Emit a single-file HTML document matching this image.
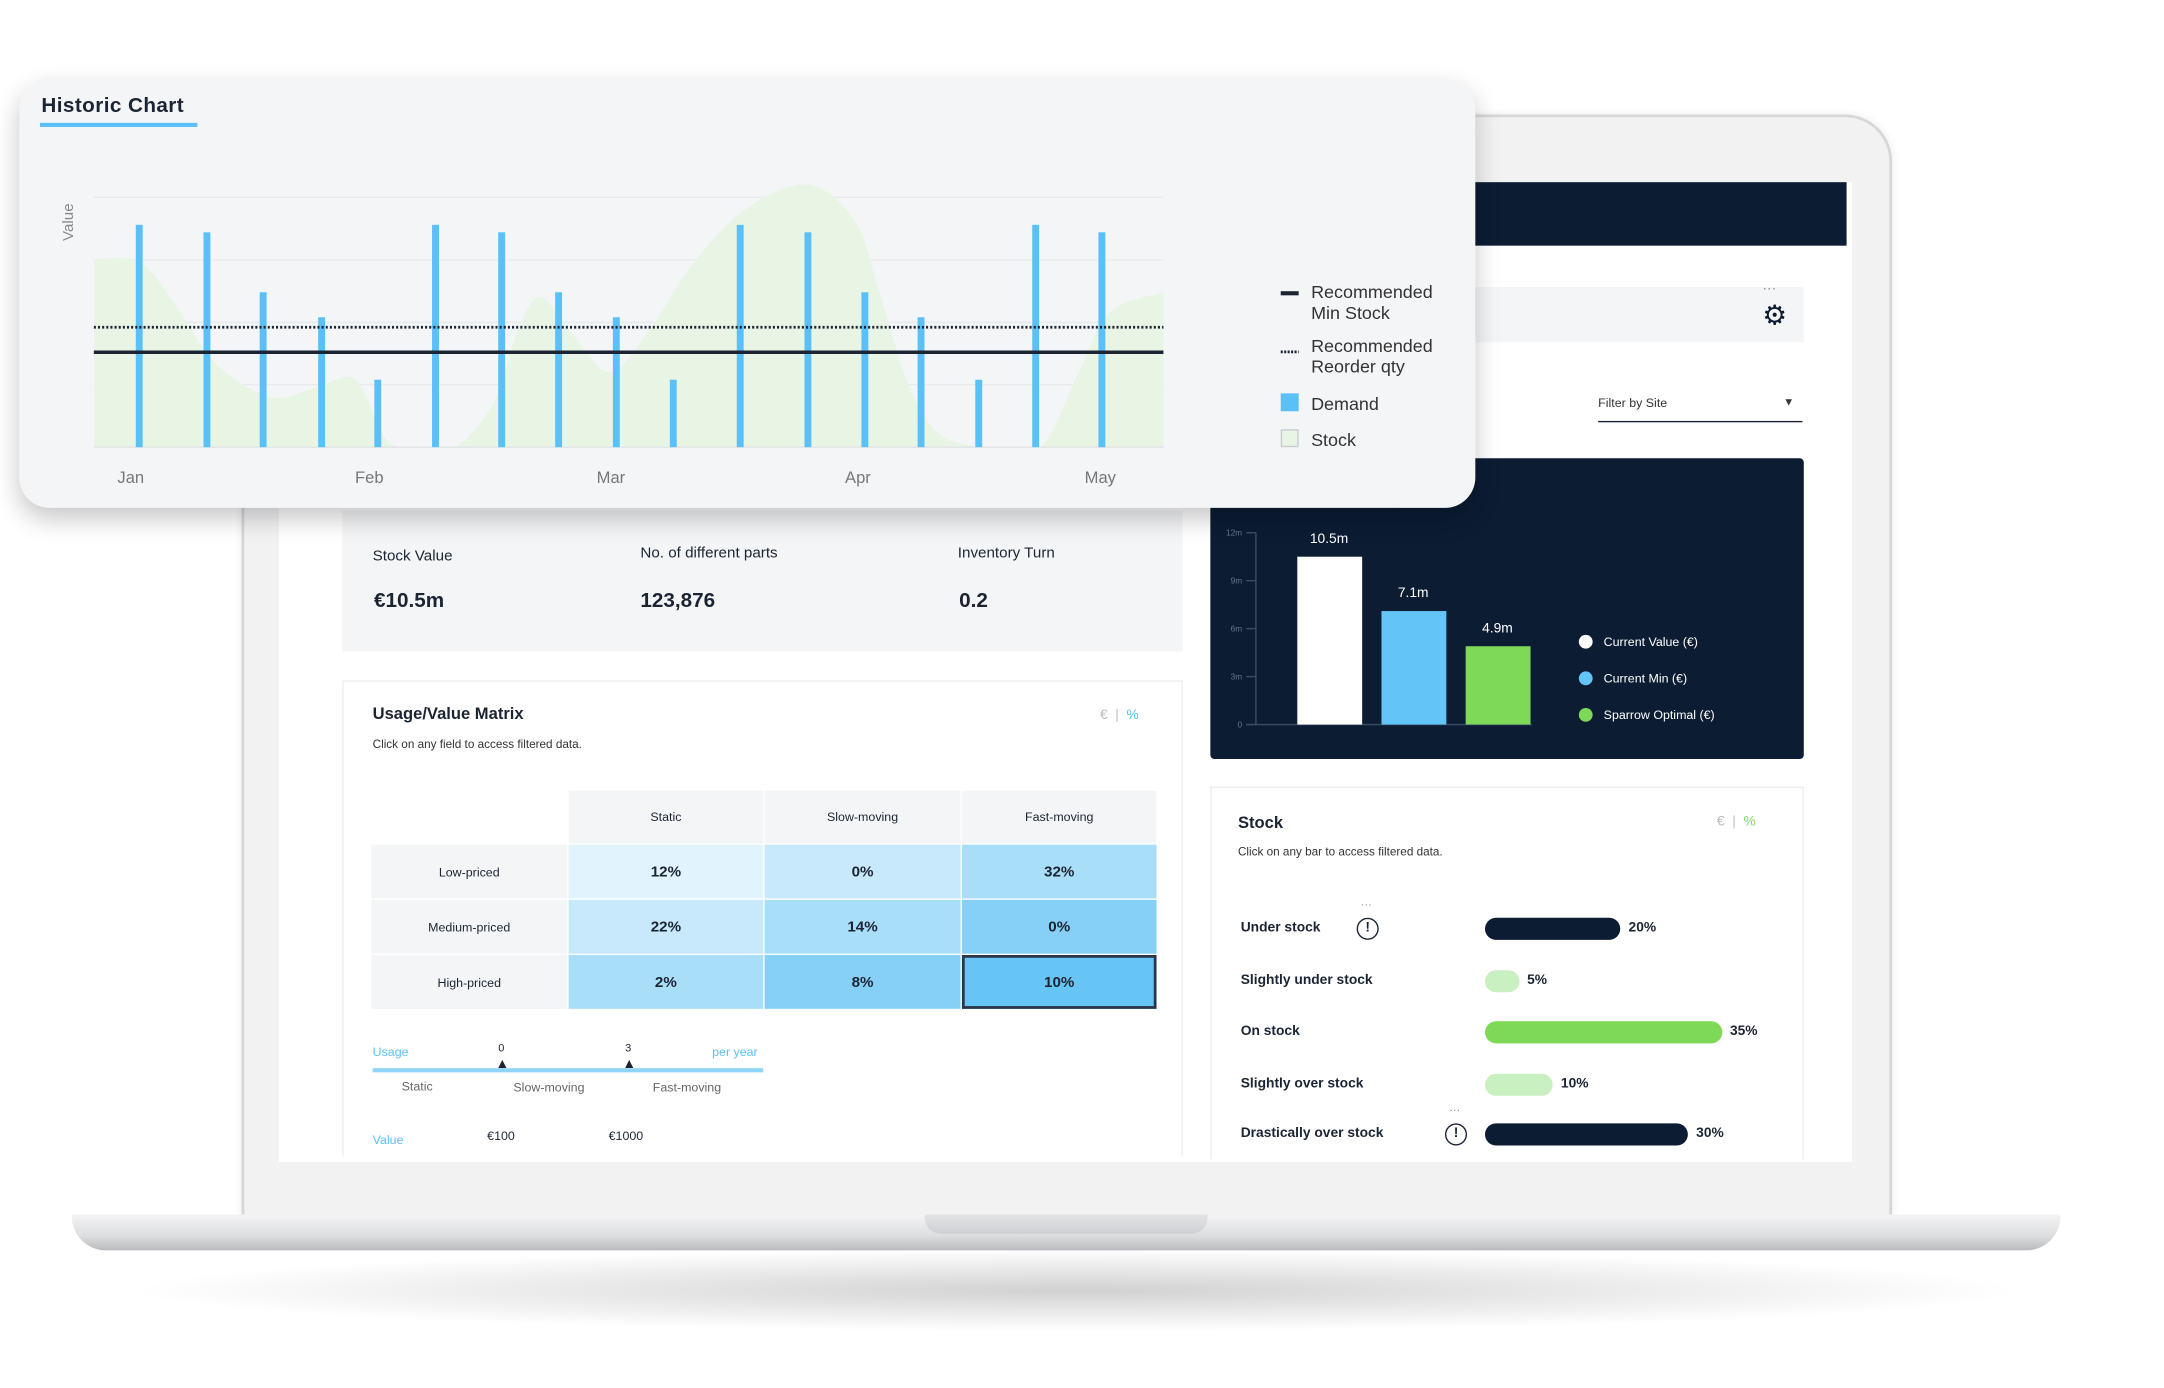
<!DOCTYPE html>
<html><head><meta charset="utf-8"><style>
*{box-sizing:border-box;margin:0;padding:0}
html,body{width:2164px;height:1388px;overflow:hidden;background:#fff;font-family:"Liberation Sans",sans-serif;color:#1b2433}
#wrap{position:absolute;left:0;top:0;width:1568px;height:1006px;transform:scale(1.38010);transform-origin:0 0}
.abs{position:absolute}
.t{position:absolute;white-space:nowrap}
</style></head><body><div id="wrap">

<!-- laptop -->
<div class="abs" style="left:90px;top:905px;width:1380px;height:60px;border-radius:50%;background:radial-gradient(ellipse at center,rgba(0,0,0,0.18),rgba(0,0,0,0) 70%)"></div>
<div class="abs" style="left:175px;top:83px;width:1196px;height:800px;border-radius:34px 34px 4px 4px;background:#f2f2f3;border:2px solid #d6d7d9;box-shadow:0 0 6px rgba(0,0,0,0.08)"></div>
<div class="abs" style="left:202px;top:132px;width:1140px;height:710px;background:#fff"></div>
<div class="abs" style="left:1060px;top:132px;width:278px;height:46px;background:#0b1c33"></div>
<div class="abs" style="left:52px;top:880px;width:1441px;height:26px;border-radius:2px 2px 40px 40px;background:linear-gradient(#f4f4f5,#dcdddf 60%,#b9babd)"></div>
<div class="abs" style="left:670px;top:880px;width:205px;height:14px;border-radius:0 0 12px 12px;background:linear-gradient(#e2e3e5,#cfd0d3)"></div>

<!-- toolbar -->
<div class="abs" style="left:1060px;top:208px;width:247px;height:40px;background:#f4f5f7"></div>
<div class="t" style="left:1277px;top:204px;font-size:10px;color:#888">···</div>
<div class="t" style="left:1277px;top:216px;font-size:20px;color:#0b1c33">⚙</div>
<div class="t" style="left:1158px;top:287px;width:148px;height:19px;border-bottom:1px solid #1b2433;font-size:9px;color:#333">Filter by Site<span style="position:absolute;right:6px;top:0;font-size:8px">▼</span></div>

<!-- stats -->
<div class="abs" style="left:248px;top:370px;width:609px;height:102px;background:#f4f5f7"></div>
<div class="t" style="left:270px;top:397px;font-size:11px">Stock Value</div>
<div class="t" style="left:271px;top:427px;font-size:15px;font-weight:bold">€10.5m</div>
<div class="t" style="left:464px;top:395px;font-size:11px">No. of different parts</div>
<div class="t" style="left:464px;top:427px;font-size:15px;font-weight:bold">123,876</div>
<div class="t" style="left:694px;top:395px;font-size:11px">Inventory Turn</div>
<div class="t" style="left:695px;top:427px;font-size:15px;font-weight:bold">0.2</div>

<!-- matrix -->
<div class="abs" style="left:248px;top:493px;width:609px;height:345px;background:#fff;border:1px solid #eceef1;border-bottom:none"></div>
<div class="t" style="left:270px;top:510px;font-size:12px;font-weight:bold">Usage/Value Matrix</div>
<div class="t" style="left:270px;top:534px;font-size:8.5px;color:#333">Click on any field to access filtered data.</div>
<div class="t" style="left:797px;top:513px;font-size:10px;color:#bbb">€ &nbsp;| &nbsp;<span style="color:#5bc0f8">%</span></div>
<div id="matrix"></div>
<div class="t" style="left:270px;top:757px;font-size:9px;color:#5bc0f8">Usage</div>
<div class="t" style="left:361px;top:755px;font-size:8px">0</div>
<div class="t" style="left:453px;top:755px;font-size:8px">3</div>
<div class="t" style="left:516px;top:757px;font-size:9px;color:#5bc0f8">per year</div>
<div class="abs" style="left:270px;top:774px;width:283px;height:3px;background:#8fd3f8"></div>
<div class="t" style="left:359px;top:766px;font-size:10px">▲</div>
<div class="t" style="left:451px;top:766px;font-size:10px">▲</div>
<div class="t" style="left:291px;top:782px;font-size:9px;color:#666">Static</div>
<div class="t" style="left:372px;top:783px;font-size:9px;color:#666">Slow-moving</div>
<div class="t" style="left:473px;top:783px;font-size:9px;color:#666">Fast-moving</div>
<div class="t" style="left:270px;top:821px;font-size:9px;color:#5bc0f8">Value</div>
<div class="t" style="left:353px;top:818px;font-size:9px">€100</div>
<div class="t" style="left:441px;top:818px;font-size:9px">€1000</div>

<!-- dark bar chart -->
<div class="abs" style="left:877px;top:332px;width:430px;height:218px;background:#0b1c33;border-radius:3px"></div>
<svg id="vchart" class="abs" style="left:0;top:0" width="1568" height="1006"></svg>

<!-- stock panel -->
<div class="abs" style="left:877px;top:570px;width:430px;height:270px;background:#fff;border:1px solid #eceef1;border-bottom:none"></div>
<div class="t" style="left:897px;top:589px;font-size:12px;font-weight:bold">Stock</div>
<div class="t" style="left:897px;top:612px;font-size:8.5px;color:#333">Click on any bar to access filtered data.</div>
<div class="t" style="left:1244px;top:590px;font-size:10px;color:#bbb">€ &nbsp;| &nbsp;<span style="color:#7ed957">%</span></div>
<div id="stockbars"></div>

<!-- historic chart card -->
<div class="abs" style="left:14px;top:57px;width:1055px;height:311px;background:#f4f5f7;border-radius:22px;box-shadow:0 8px 18px rgba(0,0,0,0.22)">
  <div class="t" style="left:16px;top:11px;font-size:15px;font-weight:bold;letter-spacing:0.3px">Historic Chart</div>
  <div class="abs" style="left:15px;top:32px;width:114px;height:3px;background:#5bc0f8"></div>
  <svg id="hchart" class="abs" style="left:0;top:0" width="1055" height="311"></svg>
</div>

<script>
// ---------- Historic chart data ----------
const barDays = [5.9,14.7,22,29.6,36.9,44.4,53,60.4,67.9,75.3,84,92.8,100.2,107.5,115,122.4,131];
const demandValues = [89,86,62,52,27,89,86,62,52,27,89,86,62,52,27,89,86];
const stockDays = [0,6,11,16,23,29,34,38,42,47,52,55,58,62,67,72,78,85,93,99,102,106,110,116,123,128,132,139];
const stockValues = [75,74,55,33,20,24,27,3,0,0,18,46,60,46,30,46,74,96,105,90,63,24,5,0,0,30,54,62];
const monthLabels = ['Jan','Feb','Mar','Apr','May'];
const monthDays = [4.8,35.8,67.2,99.3,130.8];
const minStock = 38;
const reorderQty = 48;

// ---------- Value chart data ----------
const valueCategories = ['Current Value (€)','Current Min (€)','Sparrow Optimal (€)'];
const valueAmounts = [10.5,7.1,4.9];
const valueLabels = ['10.5m','7.1m','4.9m'];
const valueTicks = [0,3,6,9,12];
const valueTickLabels = ['0','3m','6m','9m','12m'];

// ---------- Stock bars ----------
const stockCats = ['Under stock','Slightly under stock','On stock','Slightly over stock','Drastically over stock'];
const stockPct = [20,5,35,10,30];

// ---------- Matrix ----------
const matrixCols = ['Static','Slow-moving','Fast-moving'];
const matrixRows = ['Low-priced','Medium-priced','High-priced'];
const matrixValues = [[12,0,32],[22,14,0],[2,8,10]];

const NS='http://www.w3.org/2000/svg';
function mk(parent,tag,attrs){const e=document.createElementNS(NS,tag);for(const k in attrs)e.setAttribute(k,attrs[k]);parent.appendChild(e);return e;}

// Historic chart
(function(){
const svg=document.getElementById('hchart');
const X0=54,X1=829,Y0=267,Y1=86;
const xs=d=>X0+(d-0)/(139-0)*(X1-X0);
const ys=v=>Y0-v/100*(Y0-Y1);
const defs=mk(svg,'defs',{});
const cp=mk(defs,'clipPath',{id:'cp'});mk(cp,'rect',{x:X0,y:50,width:X1-X0,height:Y0-50});
// grid
for(let i=0;i<=4;i++){const g=mk(svg,'line',{x1:X0,x2:X1,y1:ys(i*25),y2:ys(i*25),stroke:'#e8eaee','stroke-width':1});
}
// area via catmull-rom
const pts=stockDays.map((d,i)=>[xs(d),ys(stockValues[i])]);
let p='M'+X0+','+Y0+' L'+pts[0][0]+','+pts[0][1];
for(let i=0;i<pts.length-1;i++){const a=pts[i-1]||pts[i],b=pts[i],c=pts[i+1],d=pts[i+2]||c;
p+=' C'+(b[0]+(c[0]-a[0])/6)+','+(b[1]+(c[1]-a[1])/6)+' '+(c[0]-(d[0]-b[0])/6)+','+(c[1]-(d[1]-b[1])/6)+' '+c[0]+','+c[1];}
p+=' L'+X1+','+Y0+' Z';
const area=mk(svg,'path',{d:p,fill:'#e8f5e4','clip-path':'url(#cp)'});

mk(svg,'line',{x1:X0,x2:X1,y1:Y0,y2:Y0,stroke:'#e2e4e8'});
// bars
barDays.forEach((d,i)=>{const r=mk(svg,'rect',{x:xs(d)-2.5,y:ys(demandValues[i]),width:5,height:Y0-ys(demandValues[i]),fill:'#5bc0f8'});
});
const l1=mk(svg,'line',{x1:X0,x2:X1,y1:ys(reorderQty),y2:ys(reorderQty),stroke:'#1b2433','stroke-width':2,'stroke-dasharray':'1.5 1.5'});

const l2=mk(svg,'line',{x1:X0,x2:X1,y1:ys(minStock),y2:ys(minStock),stroke:'#1b2433','stroke-width':2.5});

monthLabels.forEach((m,i)=>{const t=mk(svg,'text',{x:xs(monthDays[i]),y:293,'text-anchor':'middle','font-size':12,fill:'#777','font-family':'Liberation Sans'});t.textContent=m;
});
const yt=mk(svg,'text',{x:0,y:0,transform:'translate(39,104) rotate(-90)','text-anchor':'middle','font-size':11,fill:'#888','font-family':'Liberation Sans'});yt.textContent='Value';

// legend
const lg=[['Recommended','Min Stock',155],['Recommended','Reorder qty',194]];
const lgA=mk(svg,'g',{});
mk(lgA,'rect',{x:914,y:154,width:13,height:3,fill:'#1b2433'});
mk(lgA,'line',{x1:914,x2:927,y1:198,y2:198,stroke:'#1b2433','stroke-width':2,'stroke-dasharray':'1.5 1'});
lg.forEach(a=>{[a[0],a[1]].forEach((s,j)=>{const t=mk(lgA,'text',{x:936,y:a[2]+4+j*15,'font-size':13,fill:'#333','font-family':'Liberation Sans'});t.textContent=s;});});
mk(lgA,'rect',{x:914,y:228,width:13,height:13,fill:'#5bc0f8'});
let t=mk(lgA,'text',{x:936,y:240,'font-size':13,fill:'#333','font-family':'Liberation Sans'});t.textContent='Demand';
mk(lgA,'rect',{x:914.5,y:254.5,width:12,height:12,fill:'#e8f5e4',stroke:'#c8ccd2'});
t=mk(lgA,'text',{x:936,y:266,'font-size':13,fill:'#333','font-family':'Liberation Sans'});t.textContent='Stock';
})();

// Value chart
(function(){
const svg=document.getElementById('vchart');
const yb=525,yt=386,ys=v=>yb-v/12*(yb-yt);
mk(svg,'line',{x1:910,x2:910,y1:yt,y2:yb,stroke:'#3c4d66'});
mk(svg,'line',{x1:903,x2:1110,y1:yb,y2:yb,stroke:'#3c4d66'});
valueTicks.forEach((v,i)=>{mk(svg,'line',{x1:903,x2:910,y1:ys(v),y2:ys(v),stroke:'#3c4d66'});
const t=mk(svg,'text',{x:900,y:ys(v)+2,'text-anchor':'end','font-size':6,fill:'#6b7a90','font-family':'Liberation Sans'});t.textContent=valueTickLabels[i];
});
const cols=['#ffffff','#63c5f7','#7ed957'];
valueAmounts.forEach((v,i)=>{const x=940+i*61;
const r=mk(svg,'rect',{x:x,y:ys(v),width:47,height:yb-ys(v),fill:cols[i]});

const t=mk(svg,'text',{x:x+23,y:ys(v)-10,'text-anchor':'middle','font-size':10,fill:'#fff','font-family':'Liberation Sans'});t.textContent=valueLabels[i];

mk(svg,'circle',{cx:1149,cy:465+i*26.5,r:5,fill:cols[i]});
const l=mk(svg,'text',{x:1162,y:468+i*26.5,'font-size':9,fill:'#fff','font-family':'Liberation Sans'});l.textContent=valueCategories[i].replace(' (€)','  (€)');
});
})();

// Stock bars
(function(){
const c=document.getElementById('stockbars');
const ys=[673,711,748,786,822];
const cols=['#0b1c33','#c9f0c0','#7ed957','#c9f0c0','#0b1c33'];
stockCats.forEach((s,i)=>{
const l=document.createElement('div');l.className='t';l.style.cssText=`left:899px;top:${ys[i]-6}px;font-size:10px;font-weight:bold;color:#1b2433`;l.textContent=s;


c.appendChild(l);
const w=stockPct[i]*4.9;
const b=document.createElement('div');b.className='abs';b.style.cssText=`left:1076px;top:${ys[i]-8}px;width:${w}px;height:16px;border-radius:8px;background:${cols[i]}`;


c.appendChild(b);
const p=document.createElement('div');p.className='t';p.style.cssText=`left:${1076+w+6}px;top:${ys[i]-6}px;font-size:10px;font-weight:bold`;p.textContent=stockPct[i]+'%';


c.appendChild(p);
});
[[991,673],[1055,822]].forEach(a=>{const w=document.createElement('div');w.className='abs';
w.style.cssText=`left:${a[0]-8}px;top:${a[1]-8}px;width:16px;height:16px;border:1.5px solid #1b2433;border-radius:50%;font-size:10px;font-weight:bold;text-align:center;line-height:13px`;w.textContent='!';


c.appendChild(w);
const d=document.createElement('div');d.className='t';d.style.cssText=`left:${a[0]-5}px;top:${a[1]-22}px;font-size:8px;color:#888`;d.textContent='···';


c.appendChild(d);});
})();

// Matrix
(function(){
const c=document.getElementById('matrix');
const xs=[269,412,554,697],ws=[142,141,142,141];
const yr=[573,612,652,692],hs=[38,39,39,39];
const shades=['#e1f3fc','#c7e9fb','#a9def9','#86d0f7','#66c5f5'];
function cell(x,y,w,h,bg,txt,bold,name,inter){const d=document.createElement('div');d.className='abs';
d.style.cssText=`left:${x}px;top:${y}px;width:${w}px;height:${h}px;background:${bg};display:flex;align-items:center;justify-content:center;font-size:${bold?11:9}px;font-weight:${bold?'bold':'normal'};color:#1b2433`;
d.textContent=txt;c.appendChild(d);return d;}
matrixCols.forEach((s,j)=>{const d=cell(xs[j+1],yr[0],ws[j+1],hs[0],'#f4f5f7',s,false);

});
matrixRows.forEach((s,i)=>{const d=cell(xs[0],yr[i+1],ws[0],hs[i+1],'#f4f5f7',s,false);


matrixValues[i].forEach((v,j)=>{const lvl=Math.min(4,i+j);const d2=cell(xs[j+1],yr[i+1],ws[j+1],hs[i+1],shades[lvl],v+'%',true);
if(i==2&&j==2){d2.style.border='2px solid #2a3547';}

});});
})();
</script>
</div></body></html>
